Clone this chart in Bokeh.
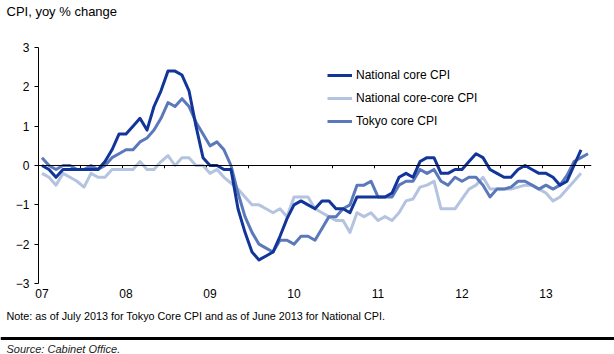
from bokeh.plotting import figure
from bokeh.layouts import column
from bokeh.models import (Range1d, FixedTicker, Span, Legend, LegendItem)
from bokeh.core.properties import value
from bokeh.embed import file_html
from bokeh.resources import INLINE

# ---- data (monthly, Jan 2007 onwards) ----
year_labels = ["07", "08", "09", "10", "11", "12", "13"]

national_core = [
    0.0, -0.1, -0.3, -0.1, -0.1, -0.1, -0.1, -0.1, -0.1, 0.1, 0.4, 0.8,
    0.8, 1.0, 1.2, 0.9, 1.5, 1.9, 2.4, 2.4, 2.3, 1.9, 1.0, 0.2,
    0.0, 0.0, -0.1, -0.1, -1.1, -1.7, -2.2, -2.4, -2.3, -2.2, -1.8, -1.35,
    -1.0, -0.9, -1.0, -1.1, -0.9, -0.9, -1.1, -1.1, -1.2, -0.8, -0.8, -0.8,
    -0.8, -0.8, -0.7, -0.3, -0.2, -0.3, 0.1, 0.2, 0.2, -0.2, -0.2, -0.1,
    -0.1, 0.1, 0.3, 0.2, -0.1, -0.2, -0.3, -0.3, -0.1, 0.0, -0.1, -0.2,
    -0.2, -0.3, -0.5, -0.4, 0.0, 0.4,
]

national_core_core = [
    -0.2, -0.3, -0.5, -0.2, -0.3, -0.4, -0.55, -0.2, -0.3, -0.3, -0.1, -0.1,
    -0.1, -0.1, 0.1, -0.1, -0.1, 0.1, 0.25, 0.0, 0.2, 0.2, 0.0, 0.0,
    -0.2, -0.1, -0.3, -0.45, -0.6, -0.8, -1.0, -1.0, -1.1, -1.2, -1.1, -1.3,
    -0.8, -0.8, -0.8, -1.1, -1.2, -1.3, -1.4, -1.4, -1.7, -1.2, -1.3, -1.2,
    -1.4, -1.3, -1.4, -1.2, -0.9, -0.85, -0.55, -0.5, -0.4, -1.1, -1.1, -1.1,
    -0.85, -0.6, -0.5, -0.3, -0.6, -0.6, -0.6, -0.6, -0.55, -0.5, -0.5, -0.6,
    -0.7, -0.9, -0.8, -0.6, -0.4, -0.2,
]

tokyo_core = [
    0.2, 0.0, -0.1, 0.0, 0.0, -0.1, -0.1, 0.0, -0.1, 0.0, 0.2, 0.3,
    0.4, 0.4, 0.6, 0.7, 0.9, 1.2, 1.6, 1.5, 1.7, 1.5, 1.1, 0.8,
    0.5, 0.6, 0.4, 0.0, -0.7, -1.3, -1.7, -2.0, -2.1, -2.2, -1.9, -1.9,
    -2.0, -1.8, -1.8, -1.9, -1.6, -1.3, -1.3, -1.1, -1.0, -0.5, -0.5, -0.4,
    -0.8, -0.8, -0.8, -0.5, -0.4, -0.4, -0.1, -0.2, -0.1, -0.4, -0.5, -0.3,
    -0.4, -0.3, -0.3, -0.5, -0.8, -0.6, -0.6, -0.55, -0.4, -0.4, -0.5, -0.6,
    -0.5, -0.6, -0.5, -0.25, 0.1, 0.2, 0.3,
]

title_text = "CPI, yoy % change"
note_text = "Note: as of July 2013 for Tokyo Core CPI and as of June 2013 for National CPI."
source_text = "Source: Cabinet Office."

n_months = len(tokyo_core)
months = list(range(n_months))

DARK = "#12359a"
LIGHT = "#b4c3e0"
MID = "#5b79ba"
FONT = "Liberation Sans"
W = 614


def text_strip(height):
    f = figure(width=W, height=height, output_backend="svg", toolbar_location=None,
               x_range=Range1d(0, W), y_range=Range1d(height, 0),
               x_axis_location=None, y_axis_location=None,
               min_border=0, min_border_left=0, min_border_right=0,
               min_border_top=0, min_border_bottom=0, frame_align=False)
    f.outline_line_color = None
    f.xgrid.visible = False
    f.ygrid.visible = False
    return f


# ---- title strip ----
p_top = text_strip(30)
p_top.text(x=[6], y=[3], text=[title_text], text_font=value(FONT),
           text_font_size="13px", text_baseline="top", text_align="left",
           text_color="black")

# ---- main chart ----
p = figure(width=W, height=280, output_backend="svg", toolbar_location=None,
           x_range=Range1d(-0.5, n_months - 0.5), y_range=Range1d(-3, 3),
           min_border_left=38, min_border_right=23, min_border_top=17,
           min_border_bottom=27, frame_align=False)
p.outline_line_color = None
p.xgrid.visible = False
p.ygrid.visible = False

p.yaxis.ticker = FixedTicker(ticks=[-3, -2, -1, 0, 1, 2, 3])
p.yaxis.major_tick_out = 4
p.yaxis.major_tick_in = 0
p.yaxis.minor_tick_line_color = None
p.yaxis.axis_line_color = "black"
p.yaxis.major_tick_line_color = "black"
p.yaxis.major_label_text_font = FONT
p.yaxis.major_label_text_font_size = "12px"
p.yaxis.major_label_text_color = "black"
p.yaxis.major_label_standoff = 5

jan_idx = [12 * i for i in range(len(year_labels))]
p.xaxis.ticker = FixedTicker(ticks=jan_idx)
p.xaxis.major_label_overrides = {t: lab for t, lab in zip(jan_idx, year_labels)}
p.xaxis.axis_line_color = None
p.xaxis.major_tick_line_color = None
p.xaxis.minor_tick_line_color = None
p.xaxis.major_tick_out = 0
p.xaxis.major_tick_in = 0
p.xaxis.major_label_standoff = 5
p.xaxis.major_label_text_font = FONT
p.xaxis.major_label_text_font_size = "12px"
p.xaxis.major_label_text_color = "black"

# zero line with half-year tick marks
p.add_layout(Span(location=0, dimension="width", line_color="black", line_width=1))
tick_x = [k - 0.5 for k in range(0, n_months + 1, 6)]
p.segment(x0=tick_x, y0=[0] * len(tick_x), x1=tick_x, y1=[-0.07] * len(tick_x),
          line_color="black", line_width=1)

r_light = p.line(months[:len(national_core_core)], national_core_core,
                 line_color=LIGHT, line_width=3, line_join="round")
r_mid = p.line(months[:len(tokyo_core)], tokyo_core,
               line_color=MID, line_width=3, line_join="round")
r_dark = p.line(months[:len(national_core)], national_core,
                line_color=DARK, line_width=3, line_join="round")

legend = Legend(items=[
    LegendItem(label="National core CPI", renderers=[r_dark]),
    LegendItem(label="National core-core CPI", renderers=[r_light]),
    LegendItem(label="Tokyo core CPI", renderers=[r_mid]),
], location=(289, 152))
legend.border_line_color = None
legend.background_fill_alpha = 0
legend.padding = 0
legend.margin = 0
legend.spacing = 3
legend.glyph_width = 25
legend.glyph_height = 20
legend.label_height = 20
legend.label_standoff = 4
legend.label_text_font = FONT
legend.label_text_font_size = "12px"
legend.label_text_color = "black"
p.add_layout(legend)

# ---- footer strip ----
p_bot = text_strip(44)
p_bot.text(x=[6], y=[5], text=[note_text], text_font=value(FONT),
           text_font_size="10.8px", text_baseline="middle", text_align="left",
           text_color="black")
p_bot.add_layout(Span(location=28, dimension="width", line_color="black", line_width=3))
p_bot.text(x=[6], y=[38], text=[source_text], text_font=value(FONT),
           text_font_size="11px", text_font_style="italic", text_baseline="middle",
           text_align="left", text_color="#222222")

layout = column(p_top, p, p_bot, spacing=0)
open("out.html", "w").write(file_html(layout, INLINE))
